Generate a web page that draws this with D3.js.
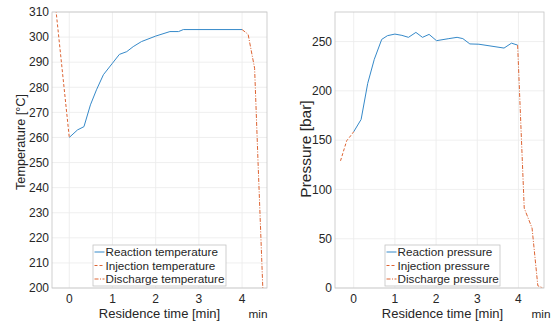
<!DOCTYPE html>
<html>
<head>
<meta charset="utf-8">
<script src="https://cdn.jsdelivr.net/npm/d3@7"></script>
<style>
body { margin: 0; background: #fff; }
text { font-family: "Liberation Sans", Arial, sans-serif; fill: #262626; }
</style>
</head>
<body>
<script>
// temperature panel data [min, °C]
var tempReactionT = [0, 0.19, 0.34, 0.49, 0.63, 0.79, 1.0, 1.16, 1.33, 1.48, 1.67, 2.0, 2.33, 2.53, 2.64, 4.0];
var tempReactionV = [260, 263, 264.3, 273, 279, 285, 289.6, 293.1, 294.2, 296.2, 298.2, 300.4, 302.2, 302.2, 303, 303];
var tempInjectionT = [-0.31, 0];
var tempInjectionV = [311, 260];
var tempDischargeT = [4.0, 4.14, 4.29, 4.37, 4.48, 4.52];
var tempDischargeV = [303, 301.1, 287.6, 250, 200, 185];

// pressure panel data [min, bar]
var presReactionT = [0, 0.18, 0.34, 0.5, 0.68, 0.82, 1.0, 1.17, 1.33, 1.51, 1.67, 1.83, 2.01, 2.31, 2.51, 2.65, 2.82, 3.04, 3.65, 3.83, 3.98];
var presReactionV = [158.5, 171, 207.6, 232, 252.2, 256, 257.6, 256.3, 254.3, 259.3, 254.3, 257.3, 250.9, 253, 254.3, 253, 247.6, 247.3, 243.4, 248.4, 246.4];
var presInjectionT = [-0.32, -0.17, -0.1, 0];
var presInjectionV = [129, 149.4, 153, 158.5];
var presDischargeT = [3.98, 4.14, 4.33, 4.47, 4.6];
var presDischargeV = [246.4, 81, 60.8, 2.3, 0];

var xTicks = [0, 1, 2, 3, 4];
var tempTicks = [200, 210, 220, 230, 240, 250, 260, 270, 280, 290, 300, 310];
var presTicks = [0, 50, 100, 150, 200, 250];

var blue = "#3589c9", orange = "#dd6433";

var svg = d3.select("body").append("svg")
    .attr("width", 552)
    .attr("height", 326);

function zip(t, v) {
    return t.map(function (d, i) { return [d, v[i]]; });
}

function drawPanel(opt) {
    var x = d3.scaleLinear().domain(opt.xDomain).range([opt.left, opt.right]);
    var y = d3.scaleLinear().domain(opt.yDomain).range([opt.bottom, opt.top]);

    var g = svg.append("g");
    var clipId = "clip" + opt.id;
    g.append("clipPath").attr("id", clipId)
        .append("rect")
        .attr("x", opt.left).attr("y", opt.top)
        .attr("width", opt.right - opt.left).attr("height", opt.bottom - opt.top);

    // grid
    g.selectAll(".gx").data(xTicks).enter().append("line")
        .attr("x1", function (d) { return x(d); }).attr("x2", function (d) { return x(d); })
        .attr("y1", opt.top).attr("y2", opt.bottom)
        .attr("stroke", "#ebebeb").attr("stroke-width", 0.8);
    g.selectAll(".gy").data(opt.yTicks).enter().append("line")
        .attr("y1", function (d) { return y(d); }).attr("y2", function (d) { return y(d); })
        .attr("x1", opt.left).attr("x2", opt.right)
        .attr("stroke", "#ebebeb").attr("stroke-width", 0.8);

    // box
    g.append("rect")
        .attr("x", opt.left).attr("y", opt.top)
        .attr("width", opt.right - opt.left).attr("height", opt.bottom - opt.top)
        .attr("fill", "none").attr("stroke", "#c4c4c4").attr("stroke-width", 0.8);

    // tick labels
    g.selectAll(".tx").data(xTicks).enter().append("text")
        .attr("x", function (d) { return x(d); })
        .attr("y", 303)
        .attr("text-anchor", "middle")
        .style("font-size", "12px")
        .text(function (d) { return d; });
    g.selectAll(".ty").data(opt.yTicks).enter().append("text")
        .attr("x", opt.left - 3)
        .attr("y", function (d) { return y(d) + 4.3; })
        .attr("text-anchor", "end")
        .style("font-size", "12px")
        .text(function (d) { return d; });

    var line = d3.line()
        .x(function (d) { return x(d[0]); })
        .y(function (d) { return y(d[1]); });

    var plot = g.append("g").attr("clip-path", "url(#" + clipId + ")");
    plot.append("path").datum(zip(opt.rT, opt.rV))
        .attr("d", line).attr("fill", "none").attr("stroke", blue).attr("stroke-width", 1);
    plot.append("path").datum(zip(opt.iT, opt.iV))
        .attr("d", line).attr("fill", "none").attr("stroke", orange).attr("stroke-width", 1)
        .attr("stroke-dasharray", "3,2");
    plot.append("path").datum(zip(opt.dT, opt.dV))
        .attr("d", line).attr("fill", "none").attr("stroke", orange).attr("stroke-width", 1)
        .attr("stroke-dasharray", "4,1.5,1,1.5");

    // axis labels
    g.append("text")
        .attr("x", opt.xLabelX)
        .attr("y", 318)
        .attr("text-anchor", "middle")
        .style("font-size", "13px")
        .text("Residence time [min]");
    g.append("text")
        .attr("x", opt.minX)
        .attr("y", 318)
        .attr("text-anchor", "middle")
        .style("font-size", "11.8px")
        .text("min");
    g.append("text")
        .attr("transform", "translate(" + opt.yLabelX + "," + opt.yLabelY + ") rotate(-90)")
        .attr("text-anchor", "middle")
        .style("font-size", opt.yLabelSize)
        .text(opt.yLabel);

    // legend
    var lg = g.append("g");
    lg.append("rect")
        .attr("x", opt.legX).attr("y", 245)
        .attr("width", opt.legW).attr("height", 41)
        .attr("fill", "#fff").attr("stroke", "#c4c4c4").attr("stroke-width", 0.8);
    var dashes = [null, "3,2", "4,1.5,1,1.5"];
    var cols = [blue, orange, orange];
    opt.legend.forEach(function (name, i) {
        var yy = 252 + i * 13.5;
        lg.append("line")
            .attr("x1", opt.legX + 1.5).attr("x2", opt.legX + 11.5)
            .attr("y1", yy).attr("y2", yy)
            .attr("stroke", cols[i]).attr("stroke-width", 1)
            .attr("stroke-dasharray", dashes[i]);
        lg.append("text")
            .attr("x", opt.legX + 12.5)
            .attr("y", yy + 4.2)
            .style("font-size", "11.7px")
            .text(name);
    });
}

drawPanel({
    id: 1, left: 52, right: 267, top: 12, bottom: 288,
    xDomain: [-0.4, 4.577], yDomain: [200, 310], yTicks: tempTicks,
    rT: tempReactionT, rV: tempReactionV,
    iT: tempInjectionT, iV: tempInjectionV,
    dT: tempDischargeT, dV: tempDischargeV,
    yLabel: "Temperature [°C]", yLabelX: 24.5, yLabelY: 142, yLabelSize: "12.7px",
    xLabelX: 159.5, minX: 258,
    legX: 93, legW: 133,
    legend: ["Reaction temperature", "Injection temperature", "Discharge temperature"]
});

drawPanel({
    id: 2, left: 335, right: 544, top: 12, bottom: 288,
    xDomain: [-0.454, 4.62], yDomain: [0, 280], yTicks: presTicks,
    rT: presReactionT, rV: presReactionV,
    iT: presInjectionT, iV: presInjectionV,
    dT: presDischargeT, dV: presDischargeV,
    yLabel: "Pressure [bar]", yLabelX: 310.5, yLabelY: 149, yLabelSize: "15.5px",
    xLabelX: 442.5, minX: 541,
    legX: 385, legW: 115,
    legend: ["Reaction pressure", "Injection pressure", "Discharge pressure"]
});
</script>
</body>
</html>
